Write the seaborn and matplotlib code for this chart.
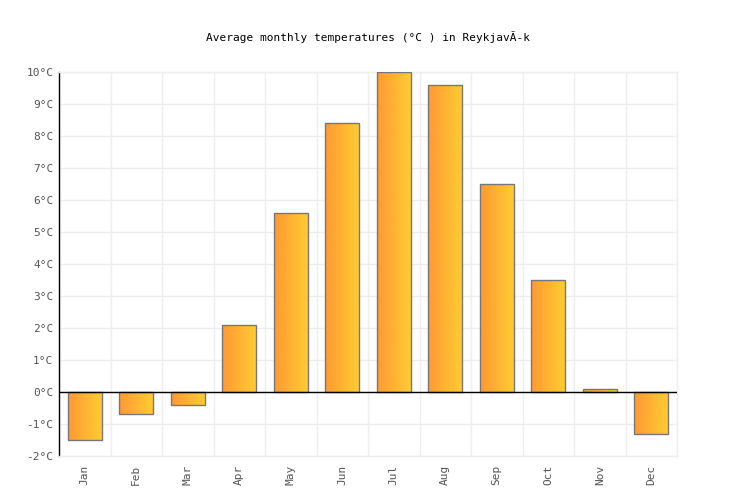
import numpy as np
import pandas as pd
import matplotlib
matplotlib.use("Agg")
import matplotlib.pyplot as plt
import seaborn as sns
from matplotlib.colors import LinearSegmentedColormap

months = ["Jan", "Feb", "Mar", "Apr", "May", "Jun", "Jul", "Aug", "Sep", "Oct", "Nov", "Dec"]
temps = [-1.5, -0.7, -0.4, 2.1, 5.6, 8.4, 10.0, 9.6, 6.5, 3.5, 0.1, -1.3]
yticks = [-2, -1, 0, 1, 2, 3, 4, 5, 6, 7, 8, 9, 10]
title = "Average monthly temperatures (°C ) in ReykjavÃ-k"

sns.set_theme(style="white")
plt.rcParams['font.family'] = ['DejaVu Sans Mono', 'DejaVu Sans']

df = pd.DataFrame({"month": months, "temp": temps})

fig = plt.figure(figsize=(7.36, 5.0), dpi=100)
ax = fig.add_axes([59/736, 1-456/500, (677-59)/736, (456-72)/500])

sns.barplot(data=df, x="month", y="temp", ax=ax, width=0.66,
            color="#FFB033", edgecolor="#777777", linewidth=1.0, zorder=3)

cmap = LinearSegmentedColormap.from_list("og", ["#FF9933", "#FFCC33"])
grad = np.linspace(0, 1, 256).reshape(1, -1)
for p in ax.patches:
    x0, y0 = p.get_x(), p.get_y()
    w, h = p.get_width(), p.get_height()
    ylo, yhi = min(y0, y0 + h), max(y0, y0 + h)
    im = ax.imshow(grad, cmap=cmap, extent=[x0, x0 + w, ylo, yhi],
                   aspect="auto", zorder=3.5, interpolation="bilinear")
    im.set_clip_path(p)
    p.set_facecolor("none")
    p.set_zorder(4)

ax.set_xlim(-0.5, 11.5)
ax.set_ylim(-2, 10)
ax.set_yticks(yticks)
ax.set_yticklabels([f"{t}°C" for t in yticks])
ax.set_xticks(np.arange(-0.5, 12, 1), minor=True)
ax.grid(True, which="minor", axis="x", color="#EEEEEE", linewidth=1, zorder=0)
ax.grid(True, which="major", axis="y", color="#EEEEEE", linewidth=1, zorder=0)
ax.tick_params(axis="x", which="both", length=0)
ax.tick_params(axis="x", labelrotation=90, labelsize=8, labelcolor="#555555", pad=6)
ax.tick_params(axis="y", labelsize=8, labelcolor="#555555", length=0, pad=4)
ax.axhline(0, color="black", linewidth=1, zorder=5)
ax.set_xlabel("")
ax.set_ylabel("")

for s in ["top", "bottom", "right"]:
    ax.spines[s].set_color("#EEEEEE")
    ax.spines[s].set_linewidth(1)
ax.spines["left"].set_color("black")
ax.spines["left"].set_linewidth(1)

fig.text(368/736, 1-37/500, title, ha="center", va="center", fontsize=8, color="black")

fig.savefig("out.png", dpi=100, facecolor="white")
